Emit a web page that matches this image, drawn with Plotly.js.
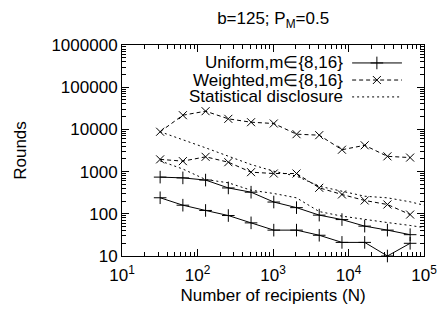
<!DOCTYPE html>
<html>
<head>
<meta charset="utf-8">
<script src="https://cdn.plot.ly/plotly-3.0.1.min.js"></script>
<style>html,body{margin:0;padding:0;background:#fff;}#chart{width:437px;height:309px;}</style>
</head>
<body>
<div id="chart"></div>
<script>
// Number of recipients
const recipients = [32, 64, 128, 256, 512, 1024, 2048, 4096, 8192, 16384, 32768, 65536];
// Uniform, m in {8,16}
const uniformM16 = [740, 710, 630, 410, 325, 190, 140, 93, 73, 51, 41, 32];
const uniformM8 = [240, 160, 120, 91, 61, 41, 41, 31, 21, 21, 10, 20];
// Weighted, m in {8,16}
const weightedM16 = [8800, 21700, 27000, 17800, 14800, 13800, 7700, 7300, 3300, 4200, 2300, 2150];
const weightedM8 = [1950, 1770, 2240, 1670, 970, 900, 900, 413, 287, 207, 166, 96];
// Statistical disclosure (drawn to the right edge)
const sdRecipients = [32, 64, 128, 256, 512, 1024, 2048, 4096, 8192, 16384, 32768, 65536, 100000];
const sdM16 = [8800, 5770, 3660, 2320, 1470, 1020, 780, 450, 343, 261, 239, 192, 160];
const sdM8 = [1800, 1150, 650, 543, 362, 303, 239, 113, 88, 73, 62, 53, 47];
// Labels
const titleText = 'b=125; P<sub>M</sub>=0.5';
const xTitle = 'Number of recipients (N)';
const yTitle = 'Rounds';
const legendNames = ['Uniform,m\u2208{8,16}', 'Weighted,m\u2208{8,16}', 'Statistical disclosure'];
const xTickVals = [10, 100, 1000, 10000, 100000];
const xTickText = ['10<sup>1</sup>', '10<sup>2</sup>', '10<sup>3</sup>', '10<sup>4</sup>', '10<sup>5</sup>'];
const yTickVals = [10, 100, 1000, 10000, 100000, 1000000];
const yTickText = ['10', '100', '1000', '10000', '100000', '1000000'];

const FONT = 'Liberation Sans, Arial, Helvetica, sans-serif';
const black = '#000';

const uniformStyle = {mode: 'lines+markers', line: {color: black, width: 1}, marker: {symbol: 'cross-thin-open', size: 9, color: black, line: {color: black, width: 1}}, cliponaxis: false, showlegend: false};
const weightedStyle = {mode: 'lines+markers', line: {color: black, width: 1, dash: '4px,3px'}, marker: {symbol: 'x-thin-open', size: 8, color: black, line: {color: black, width: 1}}, cliponaxis: false, showlegend: false};
const sdStyle = {mode: 'lines', line: {color: black, width: 1, dash: '2px,3px'}, cliponaxis: false, showlegend: false};

const traces = [
  Object.assign({x: recipients, y: uniformM16, name: legendNames[0]}, uniformStyle),
  Object.assign({x: recipients, y: uniformM8, name: legendNames[0]}, uniformStyle),
  Object.assign({x: recipients, y: weightedM16, name: legendNames[1]}, weightedStyle),
  Object.assign({x: recipients, y: weightedM8, name: legendNames[1]}, weightedStyle),
  Object.assign({x: sdRecipients, y: sdM16, name: legendNames[2]}, sdStyle),
  Object.assign({x: sdRecipients, y: sdM8, name: legendNames[2]}, sdStyle)
];

// Legend (gnuplot style: text right-aligned, sample to the right)
const legX0 = 0.762, legX1 = 0.927, legXm = 0.844, legTextX = 0.737;
const legRows = [0.915, 0.834, 0.754];
const legStyles = [uniformStyle, weightedStyle, sdStyle];
legRows.forEach((ry, i) => {
  const s = legStyles[i];
  traces.push({x: [legX0, legX1], y: [ry, ry], xaxis: 'x2', yaxis: 'y2', mode: 'lines', line: s.line, showlegend: false, hoverinfo: 'skip', cliponaxis: false});
  if (s.marker) {
    traces.push({x: [legXm], y: [ry], xaxis: 'x2', yaxis: 'y2', mode: 'markers', marker: s.marker, showlegend: false, hoverinfo: 'skip', cliponaxis: false});
  }
});

const annotations = legendNames.map((n, i) => ({
  xref: 'paper', yref: 'paper', x: legTextX, y: legRows[i], xanchor: 'right', yanchor: 'middle',
  text: n, showarrow: false, font: {family: FONT, size: 17, color: black}
}));

const axisCommon = {
  type: 'log', showline: true, linecolor: black, linewidth: 1, mirror: 'allticks',
  ticks: 'inside', ticklen: 7, tickwidth: 1, tickcolor: black, showgrid: false, zeroline: false,
  tickfont: {family: FONT, size: 17, color: black}, ticklabeloverflow: 'allow',
  minor: {ticks: 'inside', ticklen: 4, tickwidth: 1, tickcolor: black, dtick: 'D1', showgrid: false}
};

const layout = {
  width: 437, height: 309,
  margin: {l: 122, r: 13, t: 45, b: 53},
  paper_bgcolor: '#fff', plot_bgcolor: '#fff',
  font: {family: FONT, size: 17, color: black},
  showlegend: false,
  title: {text: titleText, x: 0.625, xanchor: 'center', y: 0.94, yanchor: 'middle', font: {family: FONT, size: 17, color: black}},
  xaxis: Object.assign({}, axisCommon, {range: [1, 5], tickmode: 'array', tickvals: xTickVals, ticktext: xTickText,
    ticklabelstandoff: 4,
    title: {text: xTitle, font: {family: FONT, size: 17, color: black}, standoff: 4}}),
  yaxis: Object.assign({}, axisCommon, {range: [1, 6], tickmode: 'array', tickvals: yTickVals, ticktext: yTickText,
    title: {text: yTitle, font: {family: FONT, size: 17, color: black}, standoff: 20}}),
  xaxis2: {overlaying: 'x', range: [0, 1], visible: false, fixedrange: true},
  yaxis2: {overlaying: 'y', range: [0, 1], visible: false, fixedrange: true},
  annotations: annotations
};

Plotly.newPlot('chart', traces, layout, {staticPlot: true, displayModeBar: false});
</script>
</body>
</html>
